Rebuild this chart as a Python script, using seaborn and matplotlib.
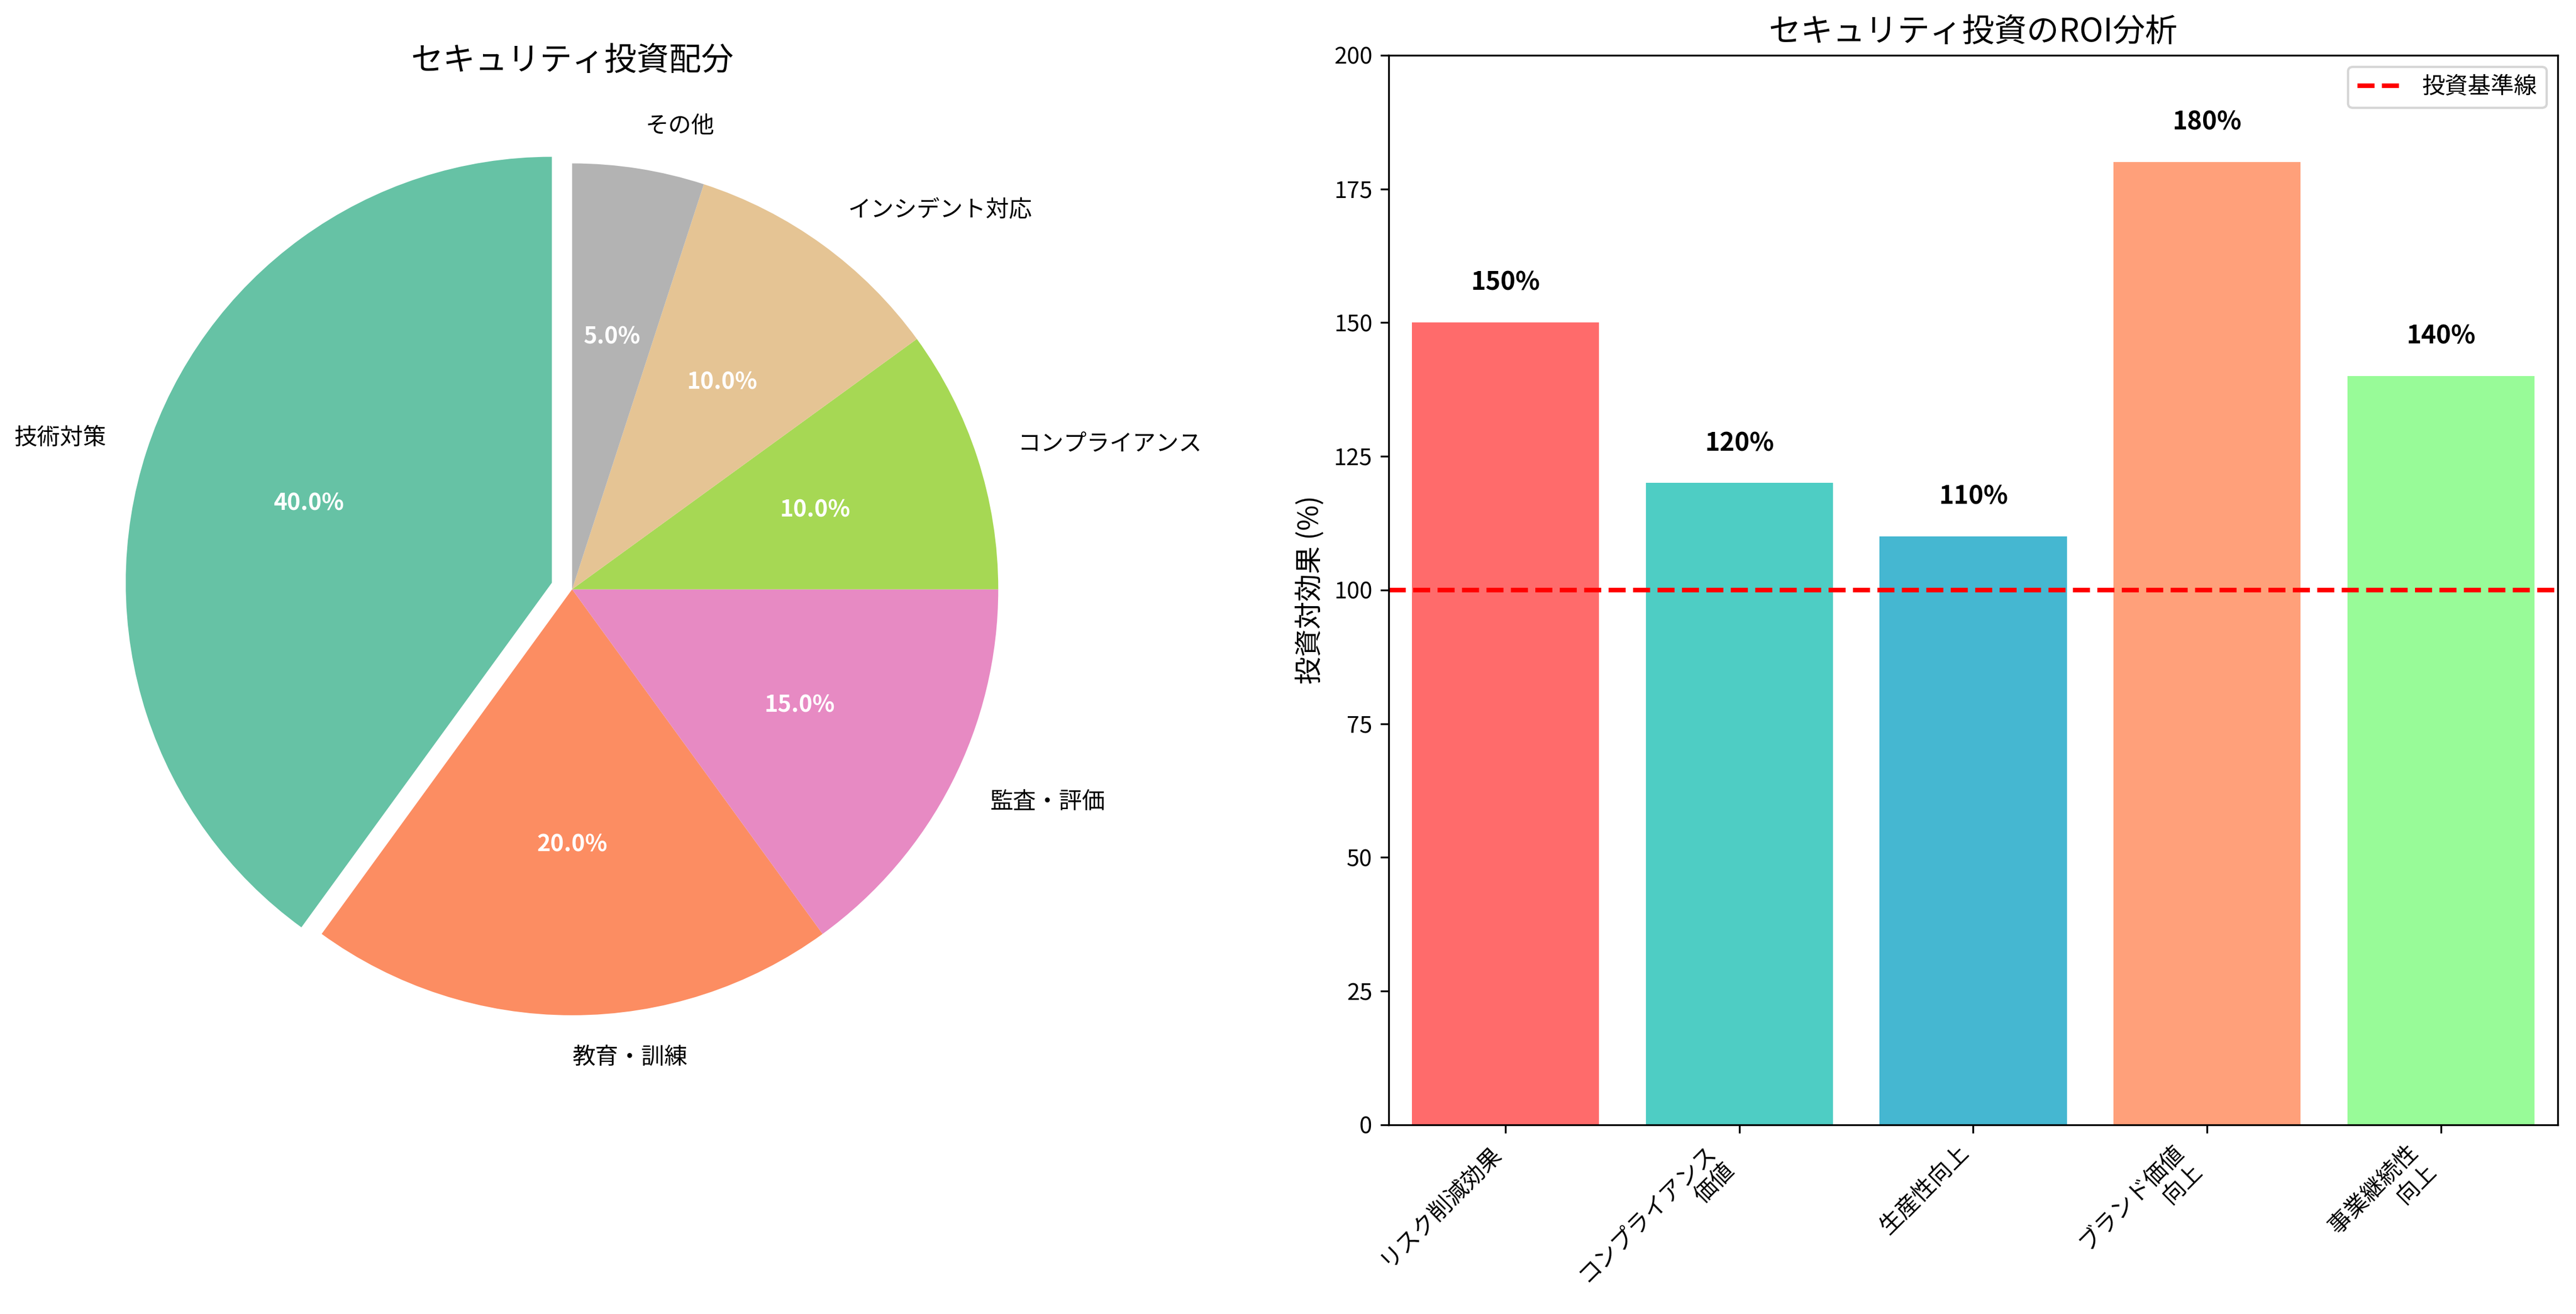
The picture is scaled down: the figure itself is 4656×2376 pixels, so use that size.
import matplotlib
matplotlib.use("Agg")
import matplotlib.pyplot as plt
import seaborn as sns
import pandas as pd

plt.rcParams["font.family"] = ["Noto Sans CJK JP", "DejaVu Sans"]

pie_labels = ["技術対策", "教育・訓練", "監査・評価", "コンプライアンス", "インシデント対応", "その他"]
pie_values = [40, 20, 15, 10, 10, 5]
pie_colors = ["#66c2a5", "#fc8d62", "#e78ac3", "#a6d854", "#e5c494", "#b3b3b3"]

bar_labels = ["リスク削減効果", "コンプライアンス\n価値", "生産性向上", "ブランド価値\n向上", "事業継続性\n向上"]
bar_values = [150, 120, 110, 180, 140]
bar_colors = ["#ff6b6b", "#4ecdc4", "#45b7d1", "#ffa07a", "#98fb98"]

fig = plt.figure(figsize=(15.52, 7.92), dpi=300)
ax1 = fig.add_axes([0.0236, 0.159, 0.397, 0.785])
ax2 = fig.add_axes([0.539, 0.144, 0.454, 0.814])

wedges, texts, autotexts = ax1.pie(pie_values, labels=pie_labels, colors=pie_colors,
                                   autopct="%1.1f%%", startangle=90,
                                   explode=[0.05, 0, 0, 0, 0, 0])
for t in autotexts:
    t.set_color("white"); t.set_fontweight("bold")
ax1.set_xlim(-1.2, 1.2)
ax1.set_ylim(-1.2, 1.2)
ax1.set_aspect("equal")
ax1.set_title("セキュリティ投資配分", fontsize=14, pad=-2)

df = pd.DataFrame({"label": bar_labels, "value": bar_values})
sns.barplot(data=df, x="label", y="value", hue="label", palette=bar_colors,
            legend=False, ax=ax2, saturation=1, width=0.8)
for i, v in enumerate(bar_values):
    ax2.text(i, v + 5, f"{v}%", ha="center", va="bottom", fontweight="bold", fontsize=11)
ax2.axhline(100, color="red", linestyle="--", linewidth=2, label="投資基準線")
ax2.legend(loc="upper right")
ax2.set_ylim(0, 200)
ax2.set_xlabel("")
ax2.set_ylabel("投資対効果 (%)", fontsize=12)
ax2.set_title("セキュリティ投資のROI分析", fontsize=14)
plt.setp(ax2.get_xticklabels(), rotation=45, ha="right")

fig.savefig("out.png", dpi=300)
